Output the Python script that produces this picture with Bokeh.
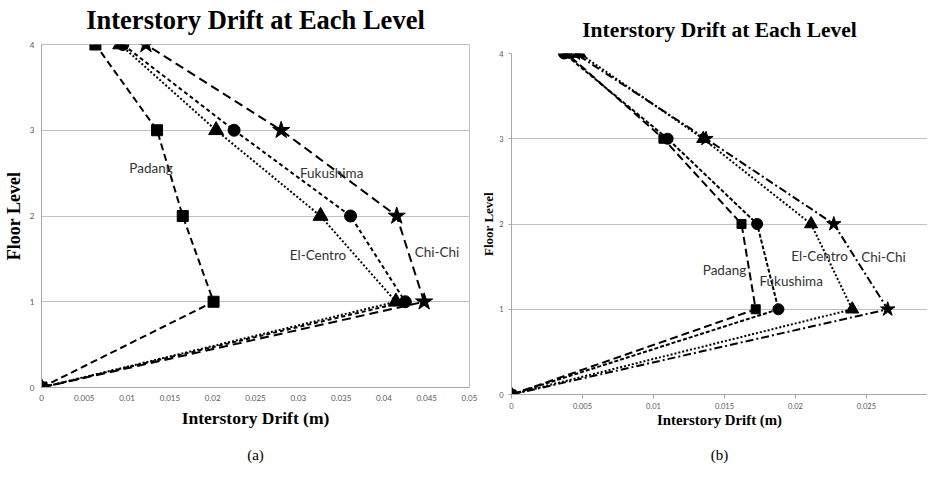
from bokeh.plotting import figure
from bokeh.layouts import row, column
from bokeh.models import FixedTicker, Range1d, LinearAxis
from bokeh.core.properties import value
from bokeh.embed import file_html
from bokeh.resources import INLINE

# ---------------- data ----------------
floors = [0, 1, 2, 3, 4]
series_names = ["Padang", "El-Centro", "Fukushima", "Chi-Chi"]

# panel (a)
drift_a_padang = [0, 0.0201, 0.0165, 0.0135, 0.0063]
drift_a_elcentro = [0, 0.0414, 0.0326, 0.0204, 0.0092]
drift_a_fukushima = [0, 0.0425, 0.0361, 0.0225, 0.0095]
drift_a_chichi = [0, 0.0447, 0.0415, 0.0280, 0.0122]

# panel (b)
drift_b_padang = [0, 0.0172, 0.0162, 0.0107, 0.0039]
drift_b_elcentro = [0, 0.0240, 0.0211, 0.0135, 0.0048]
drift_b_fukushima = [0, 0.0188, 0.0173, 0.0110, 0.0037]
drift_b_chichi = [0, 0.0265, 0.0227, 0.0137, 0.0045]

x_ticks_a = [0, 0.005, 0.01, 0.015, 0.02, 0.025, 0.03, 0.035, 0.04, 0.045, 0.05]
x_tick_labels_a = ["0", "0.005", "0.01", "0.015", "0.02", "0.025", "0.03",
                   "0.035", "0.04", "0.045", "0.05"]
x_ticks_b = [0, 0.005, 0.01, 0.015, 0.02, 0.025, 0.03]
x_tick_labels_b = ["0", "0.005", "0.01", "0.015", "0.02", "0.025", "0.03"]
y_ticks = [0, 1, 2, 3, 4]
y_tick_labels = ["0", "1", "2", "3", "4"]

# annotation anchors (data coordinates)
label_a_x = [0.0128, 0.0323, 0.0339, 0.0462]
label_a_y = [2.56, 1.55, 2.50, 1.58]
label_b_x = [0.0150, 0.0217, 0.0197, 0.0262]
label_b_y = [1.46, 1.63, 1.33, 1.61]

TITLE = "Interstory Drift at Each Level"
XLABEL = "Interstory Drift (m)"
YLABEL = "Floor Level"
CAPTIONS = ["(a)", "(b)"]
SERIF = "Liberation Serif"
SANS = "Lato"


def style_axes(p, xticks, xlabels, xlab_size, ylab_size, tick_size,
               x_tick_out, y_tick_out, x_std, x_lab_std, y_std, y_lab_std):
    p.xaxis.ticker = FixedTicker(ticks=xticks)
    p.xaxis.major_label_overrides = {float(t): l for t, l in zip(xticks, xlabels)}
    p.yaxis.ticker = FixedTicker(ticks=y_ticks)
    p.yaxis.major_label_overrides = {float(t): l for t, l in zip(y_ticks, y_tick_labels)}
    for ax in (p.xaxis[0], p.yaxis[0]):
        ax.minor_tick_line_color = None
        ax.major_tick_in = 0
        ax.axis_line_color = "#a6a6a6"
        ax.major_tick_line_color = "#a6a6a6"
        ax.major_label_text_font = SANS
        ax.major_label_text_font_size = tick_size
        ax.major_label_text_color = "#595959"
        ax.axis_label_text_font = SERIF
        ax.axis_label_text_font_style = "bold"
        ax.axis_label_text_color = "black"
    p.xaxis.major_tick_out = x_tick_out
    p.yaxis.major_tick_out = y_tick_out
    p.xaxis.axis_label = XLABEL
    p.yaxis.axis_label = YLABEL
    p.xaxis.axis_label_text_font_size = xlab_size
    p.yaxis.axis_label_text_font_size = ylab_size
    p.xaxis.major_label_standoff = x_std
    p.yaxis.major_label_standoff = y_std
    p.xaxis.axis_label_standoff = x_lab_std
    p.yaxis.axis_label_standoff = y_lab_std
    p.xgrid.visible = False
    p.ygrid.ticker = FixedTicker(ticks=[1, 2, 3])
    p.ygrid.grid_line_color = "#bfbfbf"
    p.ygrid.grid_line_width = 1


def text_axis(p, text, side, size, style, standoff):
    """An axis without ticks or line, used only to carry a title / caption text."""
    ax = LinearAxis(ticker=FixedTicker(ticks=[]), axis_label=text,
                    axis_line_color=None, major_tick_line_color=None,
                    minor_tick_line_color=None, major_tick_out=0, major_tick_in=0,
                    major_label_standoff=0, axis_label_standoff=standoff,
                    axis_label_text_font=SERIF, axis_label_text_font_size=size,
                    axis_label_text_font_style=style, axis_label_text_color="black")
    p.add_layout(ax, side)


marker = {"Padang": "square", "El-Centro": "triangle", "Fukushima": "circle", "Chi-Chi": "star"}

# ---------------- panel (a) ----------------
p1 = figure(width=478, height=465, x_range=Range1d(0, 0.05), y_range=Range1d(0, 4),
            output_backend="svg", toolbar_location=None,
            min_border_left=38, min_border_right=9, min_border_top=44, min_border_bottom=77,
            background_fill_color="white", border_fill_color="white")
p1.outline_line_color = "#bfbfbf"
style_axes(p1, x_ticks_a, x_tick_labels_a, "17.5px", "18px", "8px", 0, 0, 7, 4, 7, 3)
text_axis(p1, TITLE, "above", "26.5px", "bold", 10)
text_axis(p1, CAPTIONS[0], "below", "15px", "normal", 16)

dash_a = {"Padang": "7 4", "El-Centro": "2 2", "Fukushima": "4 3", "Chi-Chi": "9 5"}
size_a = {"Padang": 11, "El-Centro": 15, "Fukushima": 12, "Chi-Chi": 18}
vals_a = {"Padang": drift_a_padang, "El-Centro": drift_a_elcentro,
          "Fukushima": drift_a_fukushima, "Chi-Chi": drift_a_chichi}
for name in series_names:
    p1.line(vals_a[name], floors, line_color="black", line_width=2, line_dash=dash_a[name])
for name in series_names:
    p1.scatter(vals_a[name], floors, marker=marker[name], size=size_a[name],
               fill_color="black", line_color="black")
p1.text(x=label_a_x, y=label_a_y, text=series_names, text_font=value(SANS),
        text_font_size="13.5px", text_align="center", text_baseline="middle",
        text_color="#333333")

# ---------------- panel (b) ----------------
p2 = figure(width=449, height=465, x_range=Range1d(0, 0.0293), y_range=Range1d(0, 4),
            output_backend="svg", toolbar_location=None,
            min_border_left=30, min_border_right=0, min_border_top=53, min_border_bottom=70,
            background_fill_color="white", border_fill_color="white")
p2.outline_line_color = None
style_axes(p2, x_ticks_b, x_tick_labels_b, "14.8px", "13px", "7.5px", 4, 3, 4, 0, 5, 0)
text_axis(p2, TITLE, "above", "21.5px", "bold", 12)
text_axis(p2, CAPTIONS[1], "below", "15px", "normal", 16)

dash_b = {"Padang": "8 4", "El-Centro": "2 2", "Fukushima": "4 2", "Chi-Chi": "8 3 2 3"}
size_b = {"Padang": 9, "El-Centro": 13, "Fukushima": 11, "Chi-Chi": 15}
vals_b = {"Padang": drift_b_padang, "El-Centro": drift_b_elcentro,
          "Fukushima": drift_b_fukushima, "Chi-Chi": drift_b_chichi}
for name in series_names:
    p2.line(vals_b[name], floors, line_color="black", line_width=2, line_dash=dash_b[name])
for name in series_names:
    p2.scatter(vals_b[name], floors, marker=marker[name], size=size_b[name],
               fill_color="black", line_color="black")
p2.text(x=label_b_x, y=label_b_y, text=series_names, text_font=value(SANS),
        text_font_size="13.5px", text_align="center", text_baseline="middle",
        text_color="#333333")

layout = row(column(p1), column(p2))
open("out.html", "w").write(file_html(layout, INLINE))
